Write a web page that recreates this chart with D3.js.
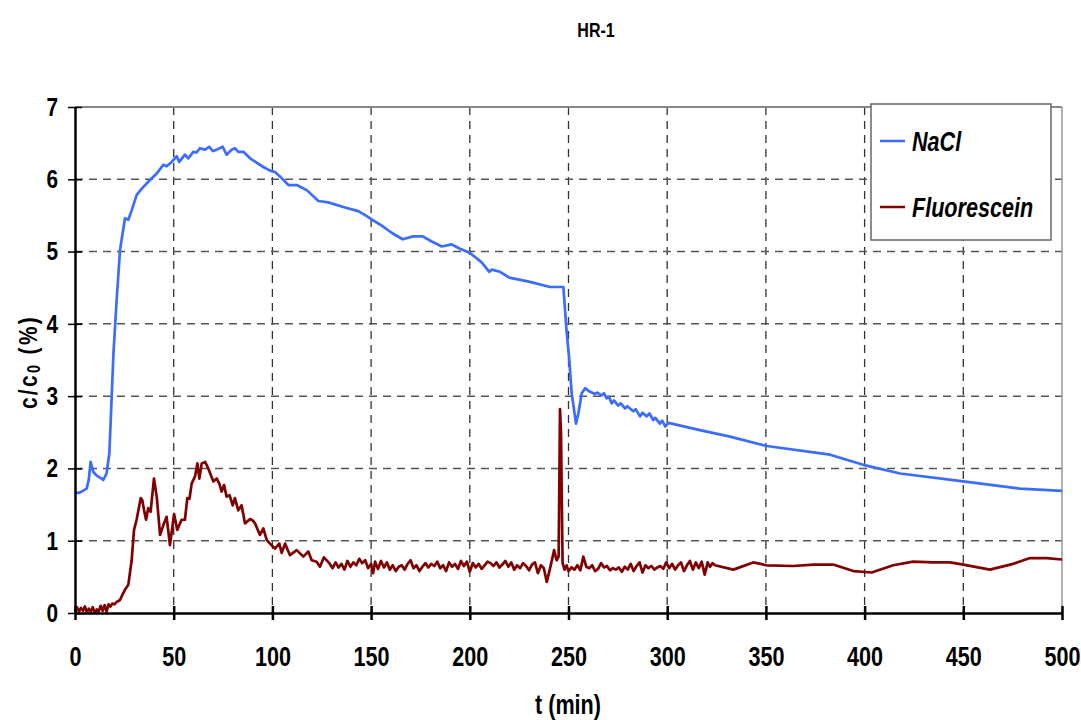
<!DOCTYPE html>
<html>
<head>
<meta charset="utf-8">
<script src="https://cdn.jsdelivr.net/npm/d3@7"></script>
<style>
  html, body { margin: 0; padding: 0; background: #fff; }
  svg text { font-family: "Liberation Sans", Arial, sans-serif; font-weight: bold; fill: #000; }
</style>
</head>
<body>
<svg id="chart" width="1081" height="720"></svg>
<script>
// Breakthrough curves, test HR-1
const naclTime = [0, 2, 4, 5.9, 7, 7.9, 9.3, 11, 13.5, 14.3, 16, 17.4, 18.1, 19.5, 21.1, 22.8, 25.3, 27, 28.7, 31.2, 33.8, 38, 41.4, 44.7, 46.4, 49, 51.5, 52.8, 55.7, 57.4, 59.9, 61.6, 63.3, 65.9, 68, 69.8, 71.8, 74.8, 76.8, 79.4, 81, 82.7, 85.3, 88.7, 92, 95.4, 98.8, 101.3, 103.8, 108.1, 112.3, 117.4, 123.3, 128.3, 136.8, 143.5, 147.8, 151.1, 155.4, 160.4, 166, 171.4, 176.1, 180.7, 185.8, 190.8, 195, 200.1, 206, 209.9, 211.1, 215.3, 220, 230.5, 240.6, 247.4, 249, 250.4, 251.6, 253.8, 255, 256.7, 258.4, 260.9, 263.4, 264.5, 266.8, 268, 269.3, 270.5, 271.9, 273, 275.2, 276.5, 278.6, 279.8, 282.8, 284, 286.2, 287.5, 289.6, 291, 292.9, 294, 296.3, 297.5, 299, 300.6, 316.6, 331.8, 350.4, 382.5, 399.3, 418, 450, 478.7, 500];
const naclValue = [1.67, 1.66, 1.69, 1.72, 1.85, 2.09, 1.95, 1.9, 1.86, 1.84, 1.93, 2.21, 2.67, 3.6, 4.33, 5.02, 5.46, 5.44, 5.57, 5.78, 5.87, 5.99, 6.08, 6.2, 6.18, 6.24, 6.32, 6.24, 6.34, 6.29, 6.38, 6.37, 6.43, 6.41, 6.45, 6.39, 6.41, 6.45, 6.34, 6.41, 6.43, 6.38, 6.38, 6.29, 6.23, 6.17, 6.12, 6.1, 6.04, 5.92, 5.92, 5.85, 5.7, 5.68, 5.61, 5.56, 5.49, 5.43, 5.36, 5.26, 5.17, 5.21, 5.21, 5.14, 5.07, 5.1, 5.04, 4.98, 4.85, 4.72, 4.75, 4.72, 4.64, 4.58, 4.51, 4.51, 3.91, 3.5, 3.04, 2.62, 2.76, 3.04, 3.11, 3.06, 3.03, 3.05, 3.01, 3.04, 2.97, 2.99, 2.9, 2.94, 2.87, 2.9, 2.83, 2.86, 2.79, 2.82, 2.72, 2.77, 2.72, 2.76, 2.67, 2.7, 2.62, 2.66, 2.58, 2.63, 2.53, 2.44, 2.31, 2.19, 2.05, 1.93, 1.82, 1.72, 1.69];

const fluoTime = [0, 1, 2, 3, 4, 5, 6, 7, 8, 9, 10, 11, 12, 13, 14, 15, 16, 17, 18, 19, 20, 21, 22.8, 24, 25.3, 27, 28.7, 29.9, 31.2, 33.3, 34.1, 35, 36, 37.1, 38.3, 40, 41.4, 43.1, 44.8, 46.4, 48.1, 50.2, 51.8, 54, 55.7, 56.9, 58, 59.1, 60.8, 62, 63, 64.2, 65.9, 67.5, 70.1, 71.8, 73.1, 74.3, 75.5, 76.8, 78.3, 79.9, 81, 82.7, 84.4, 86.1, 88.7, 90, 91.2, 93.7, 95.4, 97.1, 98.8, 101.3, 103.5, 104.7, 106.4, 108.9, 112.3, 115.7, 118.2, 119.9, 122.4, 124.1, 126.1, 128.8, 130.5, 132, 133.5, 135, 136.5, 138, 139.5, 141, 142.5, 144, 145.5, 147, 148.5, 150, 151, 152, 153.5, 155, 156.5, 158, 159.5, 161, 162.5, 164, 165.5, 167, 168.5, 170, 171.5, 173, 174.5, 176, 177.5, 179, 180.5, 182, 183.5, 185, 186.5, 188, 189.5, 191, 192.5, 194, 195.5, 197, 198.5, 200, 201.5, 203, 204.5, 206, 207.5, 209, 210.5, 212, 213.5, 215, 216.5, 218, 219.5, 221, 222.5, 224, 225.5, 227, 228.5, 230, 231.5, 233, 234.5, 236, 237.5, 239, 240.5, 242, 242.7, 244, 245, 245.7, 246.2, 247, 248, 249, 250, 251.5, 253, 254.5, 256, 257.5, 259, 260.5, 262, 263.5, 265, 266.5, 268, 269.5, 271, 272.5, 274, 275.5, 277, 278.5, 280, 281.5, 283, 284.5, 286, 287.5, 289, 290.5, 292, 293.5, 295, 296.5, 298, 299.5, 301, 302.5, 304, 305.5, 307, 308.5, 310, 311.5, 313, 314.5, 316, 317.5, 319, 320.5, 321.7, 323, 324.2, 333.5, 343.6, 350.4, 363.9, 374, 384.1, 394.3, 403.6, 414.5, 424.6, 434.8, 443.3, 450, 463.5, 475.3, 483.8, 492.2, 500];
const fluoValue = [0.02, 0.08, 0.02, 0.07, 0.03, 0.09, 0.01, 0.06, 0.02, 0.08, 0.0, 0.05, 0.02, 0.1, 0.03, 0.11, 0.02, 0.12, 0.09, 0.13, 0.12, 0.15, 0.18, 0.25, 0.32, 0.39, 0.73, 1.15, 1.29, 1.59, 1.56, 1.42, 1.29, 1.45, 1.4, 1.86, 1.61, 1.08, 1.22, 1.33, 0.94, 1.37, 1.15, 1.29, 1.29, 1.59, 1.58, 1.79, 1.89, 2.07, 1.86, 2.07, 2.09, 2.0, 1.82, 1.86, 1.79, 1.68, 1.77, 1.61, 1.63, 1.49, 1.59, 1.42, 1.49, 1.24, 1.3, 1.28, 1.24, 1.08, 1.17, 1.01, 0.96, 0.89, 0.96, 0.83, 0.96, 0.8, 0.87, 0.78, 0.85, 0.73, 0.71, 0.64, 0.77, 0.69, 0.62, 0.7, 0.63, 0.68, 0.6, 0.72, 0.64, 0.7, 0.66, 0.75, 0.69, 0.73, 0.62, 0.68, 0.55, 0.71, 0.61, 0.72, 0.63, 0.7, 0.6, 0.66, 0.58, 0.64, 0.66, 0.6, 0.68, 0.73, 0.62, 0.66, 0.58, 0.64, 0.69, 0.63, 0.68, 0.65, 0.71, 0.62, 0.66, 0.58, 0.7, 0.64, 0.68, 0.61, 0.72, 0.65, 0.71, 0.57, 0.69, 0.63, 0.68, 0.61, 0.66, 0.71, 0.69, 0.65, 0.7, 0.63, 0.67, 0.72, 0.64, 0.7, 0.6, 0.66, 0.62, 0.69, 0.65, 0.59, 0.67, 0.7, 0.55, 0.66, 0.62, 0.43, 0.6, 0.78, 0.87, 0.73, 0.78, 2.82, 2.49, 0.69, 0.6, 0.66, 0.58, 0.63, 0.6, 0.66, 0.59, 0.78, 0.64, 0.62, 0.66, 0.58, 0.61, 0.69, 0.63, 0.65, 0.59, 0.62, 0.6, 0.63, 0.57, 0.64, 0.6, 0.68, 0.58, 0.65, 0.7, 0.56, 0.66, 0.62, 0.65, 0.6, 0.63, 0.65, 0.61, 0.7, 0.62, 0.68, 0.6, 0.66, 0.7, 0.58, 0.66, 0.72, 0.6, 0.7, 0.62, 0.71, 0.53, 0.7, 0.64, 0.69, 0.66, 0.6, 0.7, 0.66, 0.65, 0.67, 0.67, 0.58, 0.56, 0.66, 0.71, 0.7, 0.7, 0.67, 0.6, 0.68, 0.76, 0.76, 0.74];

const xTicks = [0, 50, 100, 150, 200, 250, 300, 350, 400, 450, 500];
const yTicks = [0, 1, 2, 3, 4, 5, 6, 7];
const seriesNames = ["NaCl", "Fluorescein"];
const seriesColors = ["#3a6dff", "#800000"];

const FONT = '"Liberation Sans", Arial, sans-serif';
const NARROW = 0.8; // horizontal squeeze for the condensed bold lettering

// Squeeze a text horizontally around its own x anchor
function condense(sel, k = NARROW) {
  sel.each(function () {
    const t = d3.select(this);
    const x0 = +t.attr("x") || 0;
    const y0 = +t.attr("y") || 0;
    t.attr("transform", `translate(${x0},${y0}) scale(${k},1) translate(${-x0},${-y0})`);
  });
}

const svg = d3.select("#chart");
const plot = { left: 75, right: 1062, top: 107, bottom: 613 };

const x = d3.scaleLinear().domain([0, 500]).range([plot.left, plot.right]);
const y = d3.scaleLinear().domain([0, 7]).range([plot.bottom, plot.top]);

// Dashed grid
const grid = svg.append("g");
grid.selectAll("line.v").data(xTicks.filter(t => t > 0 && t < 500)).join("line")
  .attr("x1", d => x(d)).attr("x2", d => x(d))
  .attr("y1", plot.top).attr("y2", plot.bottom)
  .attr("stroke", "#333").attr("stroke-width", 1.3).attr("stroke-dasharray", "8,6");
grid.selectAll("line.h").data(yTicks.filter(t => t > 0 && t < 7)).join("line")
  .attr("x1", plot.left).attr("x2", plot.right)
  .attr("y1", d => y(d)).attr("y2", d => y(d))
  .attr("stroke", "#555").attr("stroke-width", 1.5).attr("stroke-dasharray", "8,6");

// Top and right frame
svg.append("line").attr("x1", plot.left).attr("x2", plot.right)
  .attr("y1", plot.top).attr("y2", plot.top).attr("stroke", "#888").attr("stroke-width", 2);
svg.append("line").attr("x1", plot.right).attr("x2", plot.right)
  .attr("y1", plot.top).attr("y2", plot.bottom).attr("stroke", "#999").attr("stroke-width", 1.5);

// Series
const line = d3.line().x(d => x(d[0])).y(d => y(d[1]));
const series = [
  d3.zip(naclTime, naclValue),
  d3.zip(fluoTime, fluoValue)
];
svg.append("g").selectAll("path").data(series).join("path")
  .attr("d", line)
  .attr("fill", "none")
  .attr("stroke", (d, i) => seriesColors[i])
  .attr("stroke-width", 2.7)
  .attr("stroke-linejoin", "round");

// Axes with ticks crossing the axis line
const xAxis = svg.append("g").attr("transform", `translate(0,${plot.bottom})`)
  .call(d3.axisBottom(x).tickValues(xTicks).tickFormat(d3.format("d"))
    .tickSize(7).tickSizeOuter(0).tickPadding(27));
xAxis.select(".domain").attr("stroke", "#000").attr("stroke-width", 2.5);
xAxis.selectAll(".tick line").attr("y1", -7).attr("stroke", "#000").attr("stroke-width", 2.5);
xAxis.selectAll(".tick text").attr("font-size", 27).attr("font-family", FONT).attr("font-weight", "bold")
  .call(condense);

const yAxis = svg.append("g").attr("transform", `translate(${plot.left},0)`)
  .call(d3.axisLeft(y).tickValues(yTicks).tickFormat(d3.format("d"))
    .tickSize(7).tickSizeOuter(0).tickPadding(10));
yAxis.select(".domain").attr("stroke", "#000").attr("stroke-width", 2.5);
yAxis.selectAll(".tick line").attr("x1", 7).attr("x2", -7).attr("stroke", "#000").attr("stroke-width", 1.5);
yAxis.selectAll(".tick text").attr("font-size", 26).attr("font-family", FONT).attr("font-weight", "bold")
  .call(condense);

// Title and axis labels
svg.append("text").attr("x", 596).attr("y", 37).attr("text-anchor", "middle")
  .attr("font-size", 20).text("HR-1").call(condense);
svg.append("text").attr("x", 568).attr("y", 714).attr("text-anchor", "middle")
  .attr("font-size", 27).text("t (min)").call(condense);

const yLabel = svg.append("text")
  .attr("transform", `translate(37,362) rotate(-90) scale(${NARROW},1)`)
  .attr("text-anchor", "middle").attr("font-size", 26)
  .attr("letter-spacing", 3);
yLabel.append("tspan").text("c/c");
yLabel.append("tspan").attr("font-size", 18).attr("dy", 3).text("0");
yLabel.append("tspan").attr("dy", -3).text(" (%)");

// Legend
const legend = svg.append("g");
legend.append("rect").attr("x", 871).attr("y", 104).attr("width", 180).attr("height", 136)
  .attr("fill", "#fff").attr("stroke", "#666").attr("stroke-width", 1.5);
const legendRows = legend.selectAll("g").data(seriesNames).join("g")
  .attr("transform", (d, i) => `translate(880,${141 + i * 66})`);
legendRows.append("line").attr("x1", 0).attr("x2", 25).attr("y1", 0).attr("y2", 0)
  .attr("stroke", (d, i) => seriesColors[i]).attr("stroke-width", 2.5);
legendRows.append("text").attr("x", 32).attr("y", 10)
  .attr("font-size", 27).attr("font-style", "italic").text(d => d)
  .call(condense);
</script>
</body>
</html>
